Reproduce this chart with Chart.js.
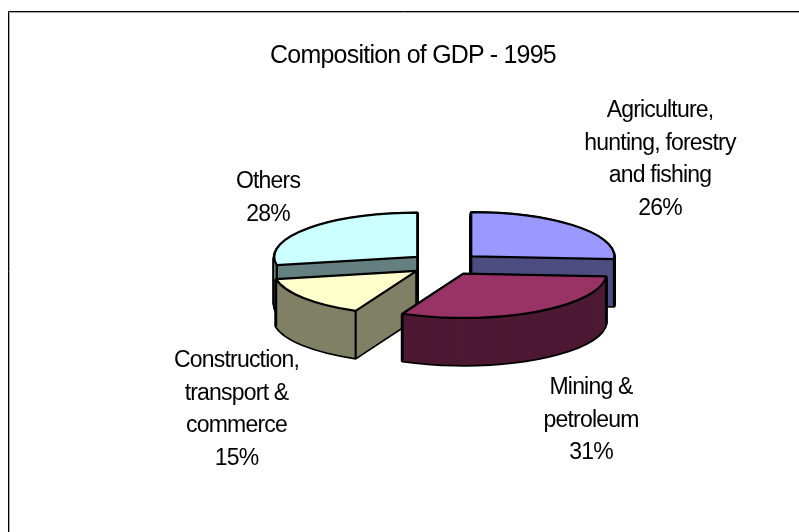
<!DOCTYPE html>
<html><head><meta charset="utf-8">
<script src="https://cdn.jsdelivr.net/npm/chart.js@4"></script>
<style>html,body{margin:0;padding:0;background:#fff}canvas{display:block}</style>
</head><body>
<div style="width:799px;height:532px;position:relative"><canvas id="c" width="799" height="532"></canvas></div>
<script>
const titleText = 'Composition of GDP - 1995';
const categories = ['Agriculture, hunting, forestry and fishing', 'Mining & petroleum', 'Construction, transport & commerce', 'Others'];
const labelLines = [['Agriculture,', 'hunting, forestry', 'and fishing'], ['Mining &', 'petroleum'], ['Construction,', 'transport &', 'commerce'], ['Others']];
const shares = [26, 31, 15, 28];
const topColors = ['#9999FF', '#993366', '#FFFFCC', '#CCFFFF'];
const sideColors = ['#4D4D80', '#4D1933', '#808066', '#668080'];

const FONT = '"Liberation Sans", Arial, sans-serif';
const pie = {cx: 445, cy: 264, squash: 0.31, depth: 47, explode: 36, drawOrder: [0, 3, 2, 1]};
const labelAnchors = [[660, 111], [591, 388], [236.5, 361], [268, 182]];
const LABEL_LEAD = 32.5;

const pie3d = {
  id: 'pie3d',
  beforeDraw(chart) {
    chart.ctx.letterSpacing = '-0.75px';
    chart.ctx.fontKerning = 'normal';
  },
  beforeDatasetsDraw(chart) {
    const ctx = chart.ctx;
    const arcs = chart.getDatasetMeta(0).data;
    const outline = (a, ox, oy) => {
      ctx.save();
      ctx.translate(ox, oy);
      ctx.scale(1, pie.squash);
      ctx.beginPath();
      ctx.moveTo(0, 0);
      ctx.arc(0, 0, a.outerRadius, a.startAngle, a.endAngle);
      ctx.closePath();
      ctx.restore();
    };
    pie.drawOrder.forEach(i => {
      const a = arcs[i];
      const mid = (a.startAngle + a.endAngle) / 2;
      const ox = pie.cx + Math.cos(mid) * pie.explode;
      const oy = pie.cy + Math.sin(mid) * pie.explode * pie.squash;
      ctx.save();
      ctx.lineJoin = 'round';
      ctx.strokeStyle = '#000';
      ctx.lineWidth = 3.4;
      for (let d = pie.depth; d > 0; d -= 1) { outline(a, ox, oy + d); ctx.stroke(); }
      ctx.fillStyle = sideColors[i];
      for (let d = pie.depth; d > 0; d -= 1) { outline(a, ox, oy + d); ctx.fill(); }
      // vertical edges of the visible faces
      ctx.lineWidth = 2.2;
      const startFace = Math.cos(a.startAngle) < -1e-6;
      const endFace = Math.cos(a.endAngle) > 1e-6;
      const edge = (x, y) => { ctx.beginPath(); ctx.moveTo(x, y); ctx.lineTo(x, y + pie.depth); ctx.stroke(); };
      const rim = t => [ox + Math.cos(t) * a.outerRadius, oy + Math.sin(t) * a.outerRadius * pie.squash];
      if (startFace || endFace) edge(ox, oy);
      if (startFace || Math.sin(a.startAngle) > 0) edge(...rim(a.startAngle));
      if (endFace || Math.sin(a.endAngle) > 0) edge(...rim(a.endAngle));
      // top face is the library's own arc element, flattened
      ctx.save();
      ctx.translate(ox, oy);
      ctx.scale(1, pie.squash);
      ctx.translate(-a.x, -a.y);
      a.draw(ctx);
      ctx.restore();
      outline(a, ox, oy);
      ctx.stroke();
      ctx.restore();
    });
    return false;
  },
  afterDraw(chart) {
    const ctx = chart.ctx;
    ctx.save();
    ctx.fillStyle = '#000';
    ctx.font = '23px ' + FONT;
    ctx.textAlign = 'center';
    ctx.textBaseline = 'middle';
    ctx.letterSpacing = '-0.8px';
    const total = shares.reduce((s, v) => s + v, 0);
    labelLines.forEach((lines, i) => {
      const [x, y] = labelAnchors[i];
      [...lines, Math.round(shares[i] / total * 100) + '%'].forEach((t, k) => ctx.fillText(t, x, y + k * LABEL_LEAD));
    });
    ctx.restore();
    // chart frame: dark line with a soft grey inner edge
    ctx.save();
    ctx.lineWidth = 1;
    [['#AAAAAA', 9.5, 12.5], ['#000000', 8.5, 11.5]].forEach(([col, x, y]) => {
      ctx.strokeStyle = col;
      ctx.beginPath();
      ctx.moveTo(x, 532); ctx.lineTo(x, y); ctx.lineTo(799, y);
      ctx.stroke();
    });
    ctx.restore();
  }
};

new Chart(document.getElementById('c'), {
  type: 'pie',
  data: {labels: categories, datasets: [{data: shares, backgroundColor: topColors, borderWidth: 0}]},
  options: {
    responsive: false,
    animation: false,
    layout: {padding: {left: 270, right: 243, top: 32, bottom: 148}},
    plugins: {
      legend: {display: false},
      tooltip: {enabled: false},
      title: {display: true, text: titleText, color: '#000', font: {family: FONT, size: 25, weight: 'normal'}, padding: {top: 9, bottom: 12}}
    }
  },
  plugins: [pie3d]
});
</script>
</body></html>
